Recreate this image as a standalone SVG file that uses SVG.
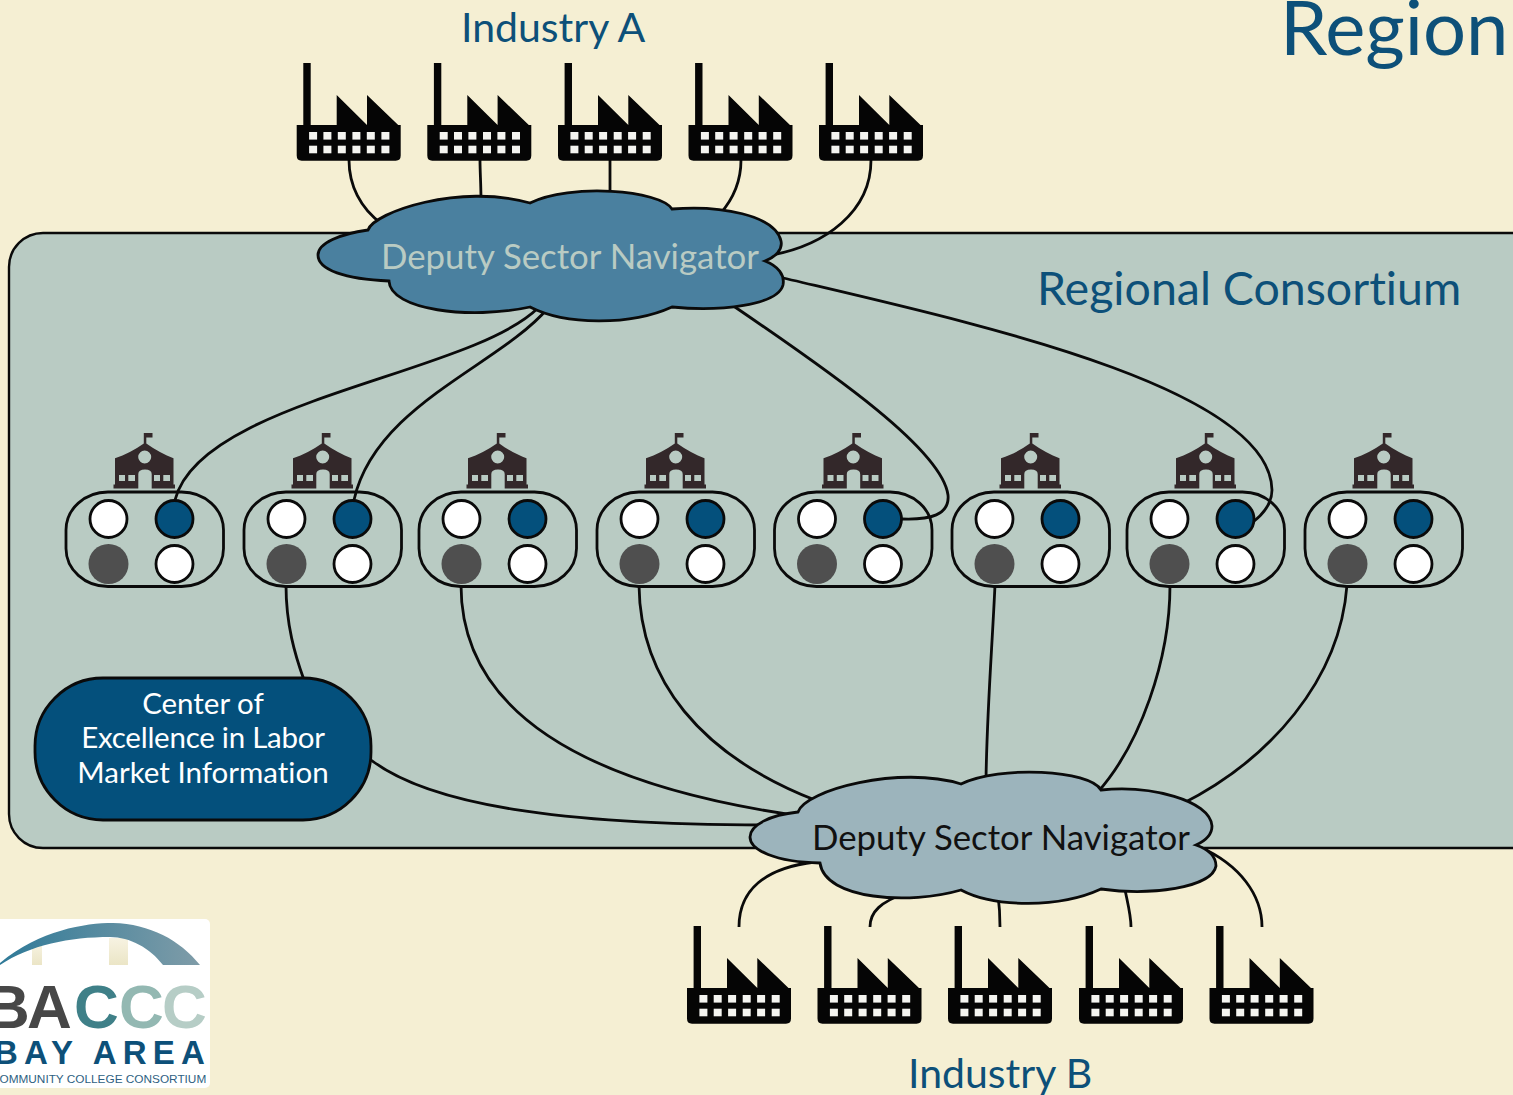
<svg xmlns="http://www.w3.org/2000/svg" width="1513" height="1095" viewBox="0 0 1513 1095">
<style>
text{font-family:"Lato","Open Sans","Liberation Sans",sans-serif;font-variant-ligatures:none}
.t{fill:#0d5079}
.c{fill:none;stroke:#0a0a0a;stroke-width:2.800}
.pod{fill:none;stroke:#0a0a0a;stroke-width:2.800}
.w{fill:#fff;stroke:#0a0a0a;stroke-width:2.800}
.b{fill:#04507c;stroke:#0a0a0a;stroke-width:2.800}
.g{fill:#4f4f4f}
.cloud{stroke:#0a0a0a;stroke-width:2.800}
.logo{font-family:"Liberation Sans",sans-serif}
</style>
<defs>
<linearGradient id="arc" x1="0" x2="1" y1="0" y2="0"><stop offset="0" stop-color="#2f7a98"/><stop offset="1" stop-color="#7f9ca8"/></linearGradient>
<linearGradient id="pil" x1="0" x2="0" y1="0" y2="1"><stop offset="0" stop-color="#f7f3e2"/><stop offset="1" stop-color="#ebe5c6"/></linearGradient>
<g id="factory">
<path d="M6.600 0H14V62H40V32L70.300 62V32L101.500 62H104V92.500Q104 97.700 99 97.700H5Q0 97.700 0 92.500V62H6.600Z" fill="#050505"/>
<g fill="#f4f4f0"><rect x="12.400" y="69" width="8" height="7.600"/><rect x="26.700" y="69" width="8" height="7.600"/><rect x="41.100" y="69" width="8" height="7.600"/><rect x="55.700" y="69" width="8" height="7.600"/><rect x="70.100" y="69" width="8" height="7.600"/><rect x="84.700" y="69" width="8" height="7.600"/><rect x="12.400" y="82.700" width="8" height="7.600"/><rect x="26.700" y="82.700" width="8" height="7.600"/><rect x="41.100" y="82.700" width="8" height="7.600"/><rect x="55.700" y="82.700" width="8" height="7.600"/><rect x="70.100" y="82.700" width="8" height="7.600"/><rect x="84.700" y="82.700" width="8" height="7.600"/></g>
</g>
<g id="school">
<path fill-rule="evenodd" fill="#33282a" d="M113.500 488.500V484.500H115V458.300C125 455 135 450 143.800 443.500V433H152.500V437.500H146.300V443.500C155 450 165 455 173.500 458.300V484.500H175V488.500H151.700V474Q151.700 469.500 145 469.500Q138.300 469.500 138.300 474V488.500ZM144.700 450.500A6.500 6.500 0 1 0 144.700 463.500A6.500 6.500 0 1 0 144.700 450.500ZM119 475V481H125V475ZM128.300 475V481H135V475ZM154 475V481H160V475ZM163.300 475V481H170V475Z"/>
</g>
<g id="pod">
<rect class="pod" x="66" y="492" width="157.500" height="94.500" rx="42" ry="38"/>
<circle class="w" cx="108.500" cy="519" r="18.500"/>
<circle class="b" cx="174.500" cy="519" r="18.500"/>
<circle class="g" cx="108.500" cy="564" r="20"/>
<circle class="w" cx="174.500" cy="564" r="18.500"/>
</g>
</defs>
<rect width="1513" height="1095" fill="#f5efd3"/>
<g id="consortium">
<rect x="9" y="233" width="1560" height="615" rx="34" fill="#b9cbc3" stroke="#0a0a0a" stroke-width="2.400"/>
<text class="t" x="1037" y="305" font-size="46.500">Regional Consortium</text>
</g>
<text id="region" class="t" x="1280" y="55" font-size="76">Region</text>
<text id="industry-a" class="t" x="461" y="42" font-size="41">Industry A</text>
<text id="industry-b" class="t" x="908" y="1088" font-size="41">Industry B</text>
<g id="connectors">
<path class="c" d="M349 160C349 185 360 208 382 224"/>
<path class="c" d="M480 160C480 172 481 185 481 200"/>
<path class="c" d="M610 160V196"/>
<path class="c" d="M741 160C741 180 735 197 720 214"/>
<path class="c" d="M871 160C871 212 825 245 772 255"/>
<path class="c" d="M538 308C470 375 200 400 175 500"/>
<path class="c" d="M548 308C500 365 375 405 354 500"/>
<path class="c" d="M732 305C835 375 942 450 948 495C950 515 930 520 902 519"/>
<path class="c" d="M775 276C960 320 1270 385 1272 490C1272 505 1262 515 1253 522"/>
<path class="c" d="M286 585C286 625 295 655 304 680"/>
<path class="c" d="M371 760C430 805 560 825 770 825"/>
<path class="c" d="M461 585C461 720 600 790 815 818"/>
<path class="c" d="M639 585C640 680 700 755 815 800"/>
<path class="c" d="M995 585C992 650 987 710 986 780"/>
<path class="c" d="M1170 585C1170 660 1140 745 1097 793"/>
<path class="c" d="M1347 585C1340 680 1270 760 1180 805"/>
<path class="c" d="M739 927C739 890 765 868 815 862"/>
<path class="c" d="M870 927C870 912 880 902 908 892"/>
<path class="c" d="M1000 927C1000 918 1000 910 998 895"/>
<path class="c" d="M1131 927C1131 915 1128 905 1124 885"/>
<path class="c" d="M1262 927C1262 895 1240 865 1200 847"/>
</g>
<g id="dsn-a">
<path class="cloud" fill="#4a809f" d="M368 230C374 212 460 183 530 203C570 183 660 190 672 209C720 205 775 215 781 241C783 250 775 257 765 261C778 266 785 275 783 285C778 305 720 312 672 307C630 326 565 325 530 307C470 320 390 310 389 281C345 279 318 270 318 255C318 243 340 234 368 230Z"/>
<text x="381" y="269" font-size="34.800" fill="#b9cbc3">Deputy Sector Navigator</text>
</g>
<g id="dsn-b">
<path class="cloud" fill="#9cb4bc" d="M798 812C805 790 900 765 961 784C1000 765 1090 770 1101 790C1150 785 1210 800 1212 826C1212 835 1205 841 1196 845C1210 850 1216 858 1216 866C1212 888 1150 896 1101 889C1060 908 995 908 961 890C910 905 825 900 820 863C775 862 750 850 750 837C750 825 770 815 798 812Z"/>
<text x="812" y="850" font-size="34.800" fill="#111">Deputy Sector Navigator</text>
</g>
<g id="factory-a1"><use href="#factory" x="296.700" y="63"/></g>
<g id="factory-a2"><use href="#factory" x="427.300" y="63"/></g>
<g id="factory-a3"><use href="#factory" x="558" y="63"/></g>
<g id="factory-a4"><use href="#factory" x="688.500" y="63"/></g>
<g id="factory-a5"><use href="#factory" x="819" y="63"/></g>
<g id="factory-b1"><use href="#factory" x="687" y="926"/></g>
<g id="factory-b2"><use href="#factory" x="817.500" y="926"/></g>
<g id="factory-b3"><use href="#factory" x="948" y="926"/></g>
<g id="factory-b4"><use href="#factory" x="1079" y="926"/></g>
<g id="factory-b5"><use href="#factory" x="1209.500" y="926"/></g>
<g id="college-1"><use href="#school"/><use href="#pod"/></g>
<g id="college-2"><use href="#school" x="178"/><use href="#pod" x="178"/></g>
<g id="college-3"><use href="#school" x="353"/><use href="#pod" x="353"/></g>
<g id="college-4"><use href="#school" x="531"/><use href="#pod" x="531"/></g>
<g id="college-5"><use href="#school" x="708.500"/><use href="#pod" x="708.500"/></g>
<g id="college-6"><use href="#school" x="886"/><use href="#pod" x="886"/></g>
<g id="college-7"><use href="#school" x="1061"/><use href="#pod" x="1061"/></g>
<g id="college-8"><use href="#school" x="1239"/><use href="#pod" x="1239"/></g>
<g id="coe">
<rect x="35" y="678" width="336" height="142" rx="68" fill="#04507c" stroke="#0a0a0a" stroke-width="2.800"/>
<text x="203" y="714" font-size="29.500" fill="#fff" text-anchor="middle">Center of</text>
<text x="203" y="748" font-size="29.500" fill="#fff" text-anchor="middle" letter-spacing="-0.250">Excellence in Labor</text>
<text x="203" y="783" font-size="29.500" fill="#fff" text-anchor="middle">Market Information</text>
</g>
<g id="logo">
<rect x="-8" y="919" width="218" height="169" rx="5" fill="#fff"/>
<rect x="32" y="943" width="10" height="22" fill="url(#pil)"/>
<rect x="109" y="938" width="19" height="27" fill="url(#pil)"/>
<path d="M0 963C40 930 85 923 113 923C150 924 180 940 200 965H163C150 948 130 937 110 937C70 937 30 945 0 965Z" fill="url(#arc)"/>
<text class="logo" y="1028" font-size="62" font-weight="700"><tspan x="-15" fill="#474747">B</tspan><tspan x="27" fill="#474747">A</tspan><tspan x="74" fill="#3f8088">C</tspan><tspan x="119" fill="#93b8b2">C</tspan><tspan x="162" fill="#b6cdc6">C</tspan></text>
<text class="logo" x="-6" y="1064" font-size="33" font-weight="700" fill="#0d5079" letter-spacing="6.200">BAY AREA</text>
<text class="logo" x="-9" y="1083" font-size="11.800" fill="#2e5f82">COMMUNITY COLLEGE CONSORTIUM</text>
</g>
</svg>
